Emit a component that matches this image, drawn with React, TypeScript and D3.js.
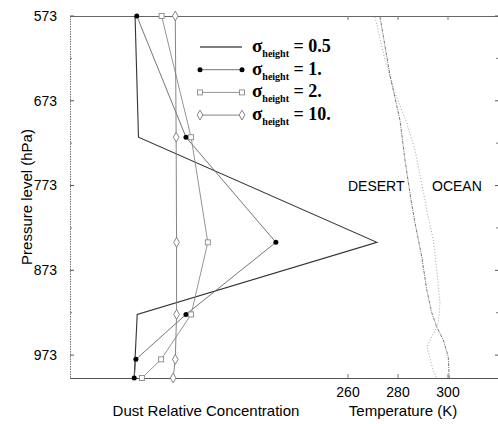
import React from 'react';
import * as d3 from 'd3';

// pressure levels (hPa) of the dust profiles
const levels = [573, 716, 840, 925, 978, 1000];
// dust relative concentration (arbitrary units) per sigma_height
const sigma05 = [15.2, 16.0, 71.7, 15.7, 15.2, 15.0];
const sigma1 = [15.6, 27.1, 48.1, 27.1, 15.4, 15.0];
const sigma2 = [21.4, 28.3, 32.2, 28.3, 21.3, 16.8];
const sigma10 = [24.6, 24.8, 24.9, 24.9, 24.6, 24.1];

// temperature profiles
const desertP = [574, 643, 696, 743, 790, 817, 857, 896, 923, 940, 955, 975, 1000];
const desertT = [272.8, 276.8, 280.8, 282.8, 285.2, 286.8, 289.5, 291.5, 293.5, 295.5, 298.1, 300.1, 300.5];
const oceanP = [574, 625, 664, 699, 731, 790, 802, 837, 873, 912, 935, 940, 963, 991, 1000];
const oceanT = [270.8, 274.8, 278.8, 283.5, 286.8, 290.8, 291.5, 294.1, 295.5, 296.8, 296.1, 295.5, 291.5, 294.1, 295.5];

const pTicks = [573, 673, 773, 873, 973];
const pMinor = [623, 723, 823, 923];
const tTicks = [260, 280, 300];

const legendLabels = ['0.5', '1.', '2.', '10.'];

const W = 498;
const H = 424;
const left = 70;
const right = 498;
const top = 16;
const bottom = 378;

const App: React.FC = () => {
  const y = d3.scaleLinear().domain([573, 1000]).range([top, bottom]);
  const xT = d3.scaleLinear().domain([148.8, 320]).range([left, right]);
  const xD = d3.scaleLinear().domain([0, 100]).range([left, right]);

  const dustLine = d3.line<[number, number]>().x(d => xD(d[0])).y(d => y(d[1]));
  const tempLine = d3.line<[number, number]>().x(d => xT(d[0])).y(d => y(d[1]));

  const series = [
    { vals: sigma05, color: '#333', marker: 'none' },
    { vals: sigma1, color: '#666', marker: 'dot' },
    { vals: sigma2, color: '#888', marker: 'square' },
    { vals: sigma10, color: '#777', marker: 'diamond' },
  ];

  const diamond = d3.symbol().type(d3.symbolDiamond).size(28)() as string;

  const marker = (kind: string, cx: number, cy: number, color: string, key: string) => {
    if (kind === 'dot') return <circle key={key} cx={cx} cy={cy} r={2.5} fill="#000" />;
    if (kind === 'square')
      return <rect key={key} x={cx - 2.5} y={cy - 2.5} width={5} height={5} fill="#fff" stroke={color} strokeWidth={0.9} />;
    if (kind === 'diamond')
      return <path key={key} d={diamond} transform={`translate(${cx},${cy})`} fill="#fff" stroke={color} strokeWidth={0.9} />;
    return null;
  };

  const sans = 'Arial, "Liberation Sans", Helvetica, sans-serif';
  const serif = '"Liberation Serif", "Times New Roman", serif';

  return (
    <svg width={W} height={H} style={{ position: 'absolute', left: 0, top: 0, background: '#fff' }}>
      {/* frame */}
      <line x1={left + 0.5} x2={left + 0.5} y1={top} y2={bottom} stroke="#777" strokeDasharray="1.5,1" />
      <line x1={left} x2={right} y1={top + 0.5} y2={top + 0.5} stroke="#666" />
      <line x1={left} x2={right} y1={bottom + 0.5} y2={bottom + 0.5} stroke="#555" />
      {pTicks.map(p => (
        <g key={'pt' + p}>
          <line x1={left} x2={left + 4} y1={y(p)} y2={y(p)} stroke="#555" />
          <line x1={right - 3} x2={right} y1={y(p)} y2={y(p)} stroke="#555" />
          <text x={57} y={y(p)} dy="0.35em" textAnchor="end" fontFamily={sans} fontSize={14}>{p}</text>
        </g>
      ))}
      {pMinor.map(p => (
        <g key={'pm' + p}>
          <line x1={left} x2={left + 2} y1={y(p)} y2={y(p)} stroke="#777" />
          <line x1={right - 2} x2={right} y1={y(p)} y2={y(p)} stroke="#777" />
        </g>
      ))}
      {tTicks.map(t => (
        <g key={'tt' + t}>
          <line x1={xT(t)} x2={xT(t)} y1={bottom} y2={bottom - 4} stroke="#777" />
          <line x1={xT(t)} x2={xT(t)} y1={top} y2={top + 4} stroke="#777" />
          <text x={xT(t)} y={397} textAnchor="middle" fontFamily={sans} fontSize={14}>{t}</text>
        </g>
      ))}
      <text transform={`translate(32,${(top + bottom) / 2}) rotate(-90)`} textAnchor="middle" fontFamily={sans} fontSize={15}>
        Pressure level (hPa)
      </text>
      <text x={206} y={416} textAnchor="middle" fontFamily={sans} fontSize={15}>Dust Relative Concentration</text>
      <text x={403} y={416} textAnchor="middle" fontFamily={sans} fontSize={15}>Temperature (K)</text>

      {/* temperature profiles */}
      <path d={tempLine(desertT.map((t, i) => [t, desertP[i]])) || ''} fill="none" stroke="#666" strokeWidth={0.9} strokeDasharray="3,1,1,1" />
      <path d={tempLine(oceanT.map((t, i) => [t, oceanP[i]])) || ''} fill="none" stroke="#999" strokeWidth={0.9} strokeDasharray="1,2" />
      <text x={348} y={191} fontFamily={sans} fontSize={14}>DESERT</text>
      <text x={432} y={191} fontFamily={sans} fontSize={14}>OCEAN</text>

      {/* dust profiles */}
      {series.map((s, si) => (
        <g key={'s' + si}>
          <path d={dustLine(s.vals.map((v, i) => [v, levels[i]])) || ''} fill="none" stroke={s.color} strokeWidth={si === 0 ? 1.1 : 0.9} />
          {s.vals.map((v, i) => marker(s.marker, xD(v), y(levels[i]), s.color, `m${si}-${i}`))}
        </g>
      ))}

      {/* legend */}
      {series.map((s, si) => {
        const ly = 47 + si * 22.7;
        return (
          <g key={'lg' + si}>
            <line x1={200} x2={242} y1={ly} y2={ly} stroke={si === 0 ? '#000' : s.color} strokeWidth={si === 0 ? 1.2 : 0.9} />
            {marker(s.marker, 200, ly, s.color, 'la' + si)}
            {marker(s.marker, 242, ly, s.color, 'lb' + si)}
            <text x={252} y={ly + 5} fontFamily={serif} fontWeight="bold" fontSize={19}>
              σ
              <tspan fontSize={10} dy={5}>height</tspan>
              <tspan fontSize={18} dy={-5}>{' = ' + legendLabels[si]}</tspan>
            </text>
          </g>
        );
      })}
    </svg>
  );
};

export default App;
